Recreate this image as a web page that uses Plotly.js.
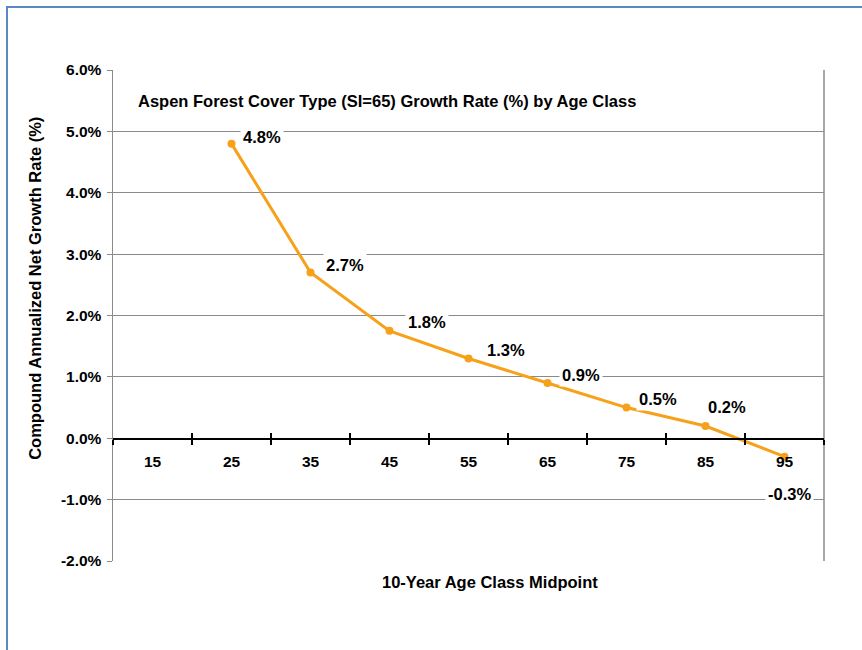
<!DOCTYPE html>
<html>
<head>
<meta charset="utf-8">
<script src="https://cdn.plot.ly/plotly-3.0.1.min.js"></script>
<style>
html,body{margin:0;padding:0;overflow:hidden;background:#fff;}
#chart{width:862px;height:650px;}
#frame{position:absolute;left:6px;top:6px;width:900px;height:700px;border-left:2px solid #5a8ac6;border-top:2px solid #5a8ac6;pointer-events:none;}
</style>
</head>
<body>
<div id="chart"></div>
<div id="frame"></div>
<script>
// Data
const ageClasses = ['15','25','35','45','55','65','75','85','95'];
const growthRate = [null, 4.8, 2.7, 1.75, 1.3, 0.9, 0.5, 0.2, -0.3];
const rateLabels = ['', '4.8%', '2.7%', '1.8%', '1.3%', '0.9%', '0.5%', '0.2%', '-0.3%'];
const yTickVals = [-2, -1, 0, 1, 2, 3, 4, 5, 6];
const yTickText = ['-2.0%', '-1.0%', '0.0%', '1.0%', '2.0%', '3.0%', '4.0%', '5.0%', '6.0%'];

// Label placement styles (pixel shifts)
const labelShiftX = [0, 8, 12, 15, 15, 11, 9, -1, -20];
const labelShiftY = [0, 7, 8, 9, 8, 8, 9, 19, -37];

const F = 'Arial, "Liberation Sans", sans-serif';
const orange = '#f7a11a';

const annotations = [];
ageClasses.forEach((c, i) => {
  if (growthRate[i] === null) return;
  annotations.push({
    x: i, y: growthRate[i], xref: 'x', yref: 'y',
    text: rateLabels[i], showarrow: false,
    xanchor: 'left', yanchor: 'middle',
    xshift: labelShiftX[i], yshift: labelShiftY[i],
    bgcolor: '#ffffff', borderpad: 2,
    font: {family: F, size: 16.5, color: '#000', weight: 'bold'}
  });
});
annotations.push({
  xref: 'paper', yref: 'paper', x: 0.032, y: 0.937,
  xanchor: 'left', yanchor: 'middle', showarrow: false,
  text: 'Aspen Forest Cover Type (SI=65) Growth Rate (%) by Age Class',
  font: {family: F, size: 16.5, color: '#000', weight: 'bold'}
});
annotations.push({
  xref: 'paper', yref: 'paper', x: 0.53, y: -0.043,
  xanchor: 'center', yanchor: 'middle', showarrow: false,
  text: '10-Year Age Class Midpoint',
  font: {family: F, size: 16.5, color: '#000', weight: 'bold'}
});
annotations.push({
  xref: 'paper', yref: 'paper', x: -0.11, y: 0.556,
  xanchor: 'center', yanchor: 'middle', showarrow: false, textangle: -90,
  text: 'Compound Annualized Net Growth Rate (%)',
  font: {family: F, size: 16.5, color: '#000', weight: 'bold'}
});

const traces = [
  {
    x: ageClasses, y: growthRate, type: 'scatter', mode: 'lines+markers',
    line: {color: orange, width: 3}, marker: {color: orange, size: 8},
    connectgaps: false, hoverinfo: 'skip', xaxis: 'x', yaxis: 'y'
  },
  {
    x: ageClasses, y: ageClasses.map(() => null), type: 'scatter', mode: 'lines',
    hoverinfo: 'skip', xaxis: 'x2', yaxis: 'y', showlegend: false
  }
];

const layout = {
  width: 862, height: 650,
  margin: {l: 113, r: 38, t: 70, b: 89},
  paper_bgcolor: '#ffffff', plot_bgcolor: '#ffffff',
  showlegend: false,
  xaxis: {
    type: 'category', categoryorder: 'array', categoryarray: ageClasses,
    anchor: 'free', position: 0.25,
    showline: true, linecolor: '#000', linewidth: 1.5,
    ticks: 'outside', ticklen: 5, tickcolor: '#000', tickwidth: 1.5,
    tickson: 'boundaries', showgrid: false, zeroline: false,
    ticklabelstandoff: 9,
    tickfont: {family: F, size: 15.5, color: '#000', weight: 'bold'},
    range: [-0.5, 8.5]
  },
  xaxis2: {
    type: 'category', categoryorder: 'array', categoryarray: ageClasses,
    overlaying: 'x', anchor: 'free', position: 0.25, matches: 'x',
    showline: false, ticks: 'inside', ticklen: 5, tickcolor: '#000', tickwidth: 1.5,
    tickson: 'boundaries', showgrid: false, zeroline: false, showticklabels: false,
    range: [-0.5, 8.5]
  },
  yaxis: {
    range: [-2, 6], tickvals: yTickVals, ticktext: yTickText,
    showline: true, linecolor: '#8a8a8a', linewidth: 1.5,
    ticks: 'outside', ticklen: 5, tickcolor: '#8a8a8a',
    showgrid: true, gridcolor: '#8a8a8a', gridwidth: 1,
    zeroline: false, ticklabelstandoff: 2,
    tickfont: {family: F, size: 15.5, color: '#000', weight: 'bold'}
  },
  shapes: [
    {type: 'line', xref: 'paper', yref: 'paper', x0: 1, x1: 1, y0: 0, y1: 1,
     line: {color: '#8a8a8a', width: 1.5}, layer: 'below'}
  ],
  annotations: annotations
};

Plotly.newPlot('chart', traces, layout, {displayModeBar: false, staticPlot: true});
</script>
</body>
</html>
